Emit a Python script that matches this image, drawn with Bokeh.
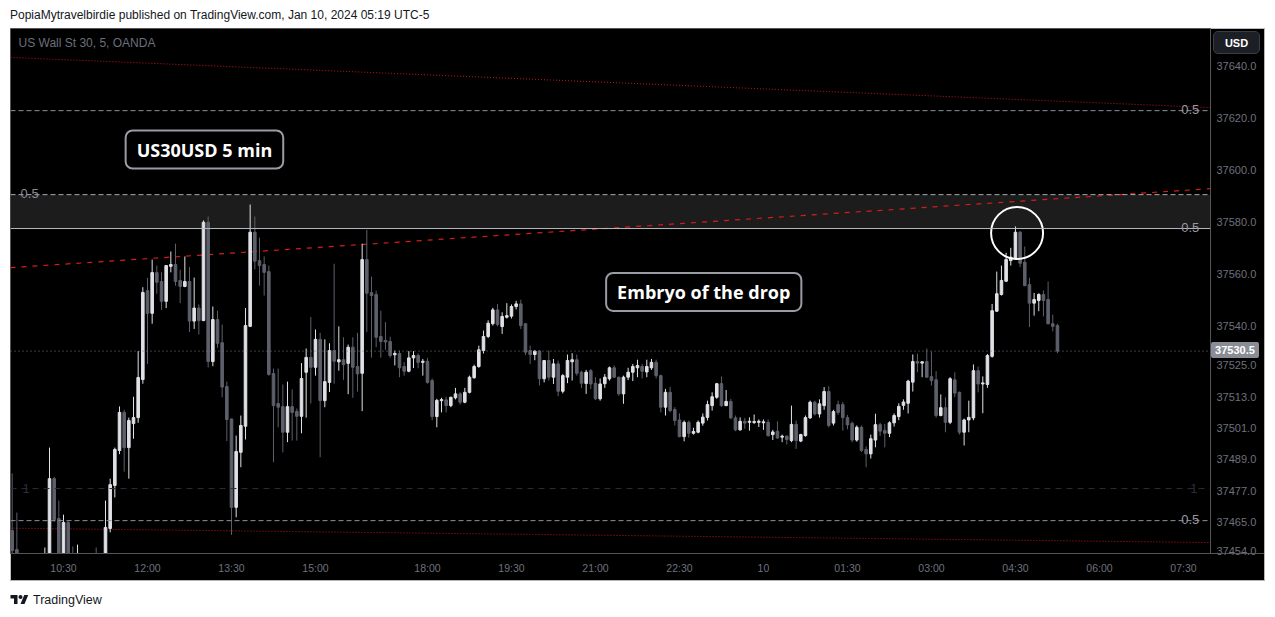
from bokeh.plotting import figure
from bokeh.models import (ColumnDataSource, Range1d, FixedTicker, Span, BoxAnnotation,
                          Label, Div, NumeralTickFormatter)
from bokeh.layouts import column
from bokeh.embed import file_html
from bokeh.resources import INLINE

# ---------------- data (5-minute bars, x = bar number, 0 = 10:30) ----------------
bar_index = list(range(-11, 214))

opens = [
    37461.7, 37454.4, 37449.0, 37442.0, 37444.0, 37440.0, 37443.0, 37446.0, 37448.0, 37481.6,
    37466.3, 37450.5, 37464.8, 37449.0, 37447.0, 37450.0, 37443.0, 37440.0, 37445.0, 37443.0,
    37446.0, 37462.5, 37479.0, 37492.4, 37507.0, 37493.5, 37502.7, 37505.0, 37519.6, 37553.7,
    37545.0, 37560.6, 37557.2, 37549.6, 37563.0, 37563.7, 37557.6, 37555.3, 37557.2, 37542.0,
    37547.0, 37542.2, 37579.9, 37526.5, 37542.6, 37533.7, 37516.9, 37504.5, 37470.6, 37491.7,
    37501.7, 37540.0, 37576.1, 37565.2, 37563.7, 37561.0, 37521.9, 37510.4, 37509.2, 37499.4,
    37509.2, 37507.4, 37505.5, 37522.4, 37528.1, 37524.3, 37535.0, 37511.5, 37518.5, 37530.7,
    37526.4, 37527.2, 37525.8, 37532.0, 37524.6, 37522.0, 37565.6, 37552.9, 37552.2, 37536.1,
    37534.6, 37534.2, 37529.1, 37529.6, 37524.6, 37522.8, 37527.9, 37528.8, 37526.2, 37526.6,
    37519.2, 37505.4, 37511.5, 37511.8, 37509.6, 37512.6, 37514.1, 37510.9, 37514.7, 37520.3,
    37524.6, 37530.7, 37536.1, 37541.0, 37546.3, 37539.9, 37543.5, 37543.9, 37547.6, 37548.6,
    37541.0, 37530.7, 37529.2, 37530.5, 37519.9, 37526.9, 37520.5, 37525.6, 37515.1, 37520.5,
    37526.4, 37527.2, 37522.4, 37518.1, 37523.0, 37518.2, 37512.2, 37518.0, 37519.9, 37524.1,
    37520.5, 37514.1, 37520.5, 37522.4, 37524.1, 37524.6, 37522.5, 37524.1, 37526.2, 37521.1,
    37509.0, 37514.7, 37508.1, 37504.1, 37497.7, 37503.2, 37499.0, 37499.4, 37502.9, 37505.1,
    37509.6, 37512.8, 37518.0, 37509.6, 37511.2, 37504.9, 37500.3, 37503.6, 37503.2, 37503.1,
    37503.2, 37503.0, 37503.2, 37498.5, 37499.8, 37497.5, 37497.9, 37496.2, 37502.4, 37496.0,
    37498.1, 37504.9, 37510.9, 37506.4, 37509.6, 37515.0, 37502.9, 37510.0, 37510.0, 37505.0,
    37502.8, 37496.4, 37501.3, 37492.8, 37491.1, 37496.4, 37502.3, 37500.1, 37499.0, 37503.0,
    37505.4, 37509.7, 37510.5, 37518.6, 37526.5, 37525.9, 37526.5, 37520.7, 37519.5, 37505.8,
    37508.8, 37503.2, 37519.5, 37514.7, 37499.4, 37504.1, 37504.9, 37523.0, 37517.9, 37517.7,
    37528.5, 37545.8, 37552.2, 37557.3, 37565.2, 37565.9, 37576.1, 37564.6, 37556.0, 37548.9,
    37549.9, 37552.2, 37550.3, 37541.0, 37540.3,
]
highs = [
    37483.6, 37468.6, 37451.0, 37447.0, 37449.0, 37446.0, 37450.0, 37455.2, 37493.5, 37482.3,
    37473.2, 37467.8, 37465.5, 37455.6, 37456.3, 37451.5, 37448.0, 37447.0, 37455.2, 37449.0,
    37473.2, 37481.6, 37493.5, 37509.3, 37508.0, 37505.0, 37513.0, 37530.5, 37555.0, 37558.6,
    37565.6, 37563.3, 37560.7, 37563.3, 37568.7, 37571.7, 37561.7, 37566.8, 37562.7, 37558.7,
    37548.4, 37580.6, 37582.1, 37547.6, 37546.0, 37540.7, 37518.8, 37504.6, 37498.1, 37505.8,
    37547.0, 37586.7, 37582.1, 37574.0, 37566.8, 37563.3, 37523.8, 37523.8, 37517.7, 37518.8,
    37515.8, 37508.5, 37525.9, 37531.5, 37543.6, 37538.8, 37537.5, 37535.0, 37533.5, 37564.0,
    37540.0, 37535.8, 37533.0, 37535.8, 37537.5, 37571.7, 37577.0, 37559.1, 37553.7, 37546.0,
    37541.6, 37536.0, 37530.7, 37530.7, 37526.3, 37530.5, 37530.5, 37529.6, 37527.5, 37527.9,
    37520.0, 37512.2, 37512.6, 37513.0, 37513.0, 37516.4, 37514.7, 37516.4, 37521.1, 37525.3,
    37532.6, 37538.4, 37542.3, 37547.1, 37548.6, 37545.4, 37548.9, 37548.4, 37549.8, 37550.2,
    37541.2, 37532.6, 37530.8, 37530.8, 37527.0, 37530.7, 37527.5, 37526.9, 37521.7, 37529.2,
    37529.7, 37529.2, 37523.0, 37523.3, 37523.6, 37520.5, 37520.0, 37521.7, 37524.6, 37525.0,
    37520.7, 37521.1, 37524.1, 37525.6, 37527.2, 37525.6, 37527.2, 37527.5, 37527.2, 37521.5,
    37516.0, 37516.8, 37509.0, 37506.6, 37503.9, 37503.9, 37501.1, 37503.9, 37506.6, 37511.5,
    37514.7, 37518.3, 37520.8, 37515.6, 37512.2, 37505.8, 37505.1, 37504.9, 37505.1, 37506.2,
    37504.3, 37504.3, 37504.3, 37500.3, 37503.6, 37498.5, 37498.1, 37509.6, 37503.9, 37498.8,
    37505.8, 37511.5, 37511.5, 37512.0, 37516.7, 37517.0, 37508.0, 37511.5, 37511.0, 37506.0,
    37503.5, 37502.0, 37502.0, 37494.0, 37498.5, 37506.5, 37503.0, 37502.6, 37503.6, 37506.6,
    37510.5, 37512.0, 37519.5, 37529.2, 37529.5, 37526.5, 37531.5, 37530.4, 37522.8, 37513.9,
    37512.8, 37520.5, 37522.4, 37515.0, 37504.6, 37511.5, 37525.4, 37524.6, 37520.8, 37529.4,
    37548.6, 37561.0, 37563.3, 37568.2, 37570.1, 37578.3, 37576.5, 37570.6, 37558.6, 37552.8,
    37552.7, 37553.7, 37557.2, 37544.5, 37541.0,
]
lows = [
    37448.0, 37444.0, 37438.0, 37436.0, 37437.0, 37434.0, 37439.0, 37441.0, 37445.0, 37465.0,
    37446.0, 37447.0, 37445.0, 37442.0, 37441.0, 37440.0, 37436.0, 37437.0, 37441.0, 37438.0,
    37443.0, 37461.0, 37474.4, 37491.0, 37484.3, 37481.6, 37496.9, 37503.0, 37518.0, 37525.6,
    37541.0, 37552.5, 37546.3, 37547.0, 37560.7, 37555.6, 37548.9, 37555.0, 37537.8, 37539.0,
    37536.9, 37542.0, 37524.3, 37524.7, 37531.8, 37512.8, 37496.0, 37460.0, 37466.8, 37486.0,
    37496.6, 37539.7, 37561.8, 37555.6, 37551.8, 37521.1, 37487.9, 37501.3, 37491.7, 37495.6,
    37496.2, 37496.2, 37499.0, 37505.0, 37510.4, 37521.1, 37489.8, 37509.0, 37514.8, 37518.0,
    37523.0, 37519.5, 37514.0, 37512.6, 37515.0, 37507.5, 37537.8, 37528.0, 37532.0, 37528.0,
    37531.0, 37528.0, 37525.0, 37520.5, 37521.1, 37522.4, 37524.0, 37523.9, 37521.1, 37518.0,
    37504.0, 37501.3, 37507.0, 37507.0, 37509.0, 37512.0, 37510.0, 37510.5, 37514.3, 37519.9,
    37524.1, 37529.6, 37535.5, 37540.3, 37540.0, 37537.1, 37543.0, 37543.0, 37546.5, 37539.0,
    37529.0, 37525.6, 37527.0, 37517.3, 37518.5, 37519.2, 37517.9, 37513.2, 37514.3, 37518.2,
    37519.2, 37521.1, 37516.4, 37514.1, 37516.0, 37511.8, 37511.5, 37516.4, 37519.2, 37520.2,
    37513.4, 37510.3, 37519.4, 37519.0, 37520.5, 37520.0, 37520.5, 37523.3, 37520.0, 37507.0,
    37505.8, 37507.0, 37502.0, 37497.5, 37495.9, 37497.3, 37498.5, 37499.0, 37501.9, 37503.9,
    37507.7, 37512.2, 37509.2, 37509.4, 37504.4, 37499.8, 37500.0, 37500.7, 37500.0, 37502.6,
    37501.4, 37500.3, 37497.7, 37496.4, 37496.8, 37495.6, 37494.7, 37495.6, 37493.0, 37495.6,
    37497.7, 37504.5, 37505.8, 37505.0, 37508.0, 37501.3, 37502.0, 37506.0, 37500.0, 37500.5,
    37495.5, 37495.8, 37491.8, 37486.0, 37489.3, 37493.6, 37498.0, 37493.6, 37497.5, 37501.6,
    37504.0, 37508.0, 37506.6, 37515.0, 37522.4, 37520.5, 37520.3, 37517.3, 37505.0, 37505.5,
    37499.4, 37502.5, 37512.8, 37498.5, 37494.3, 37499.4, 37504.0, 37514.7, 37506.7, 37516.4,
    37528.0, 37545.5, 37551.8, 37557.0, 37563.3, 37565.5, 37562.7, 37555.4, 37539.7, 37544.1,
    37545.8, 37543.8, 37540.7, 37538.1, 37529.7,
]
closes = [
    37454.0, 37449.0, 37442.0, 37444.0, 37440.0, 37443.0, 37446.0, 37448.0, 37481.6, 37465.9,
    37450.5, 37464.8, 37449.0, 37447.0, 37450.0, 37443.0, 37440.0, 37445.0, 37443.0, 37446.0,
    37462.9, 37479.3, 37492.8, 37507.0, 37493.5, 37503.9, 37505.0, 37520.4, 37553.0, 37545.0,
    37560.6, 37556.9, 37549.6, 37563.3, 37563.7, 37557.2, 37555.3, 37557.2, 37542.0, 37547.0,
    37542.2, 37579.9, 37526.5, 37542.6, 37533.5, 37516.7, 37504.3, 37470.6, 37492.0, 37502.0,
    37540.3, 37576.1, 37565.0, 37563.3, 37560.7, 37521.5, 37509.6, 37509.0, 37499.4, 37509.2,
    37507.0, 37505.5, 37520.0, 37528.1, 37524.3, 37535.0, 37511.5, 37518.8, 37530.7, 37526.6,
    37527.2, 37525.3, 37532.0, 37524.3, 37521.8, 37565.6, 37552.7, 37551.8, 37535.8, 37534.2,
    37534.0, 37528.8, 37529.6, 37524.1, 37522.8, 37527.9, 37528.8, 37526.2, 37526.6, 37518.5,
    37505.4, 37511.6, 37511.9, 37509.6, 37512.8, 37514.1, 37510.9, 37514.7, 37520.5, 37524.6,
    37531.0, 37536.1, 37541.2, 37546.3, 37540.7, 37543.8, 37544.1, 37547.6, 37548.6, 37540.3,
    37530.1, 37529.2, 37530.5, 37519.9, 37526.9, 37520.5, 37525.6, 37515.1, 37521.1, 37526.9,
    37527.2, 37522.0, 37518.2, 37522.4, 37517.9, 37512.2, 37517.9, 37520.5, 37524.1, 37520.5,
    37514.1, 37520.5, 37522.4, 37524.6, 37525.0, 37522.8, 37524.6, 37526.2, 37521.1, 37509.0,
    37514.7, 37507.7, 37503.9, 37497.7, 37503.2, 37499.0, 37499.7, 37503.2, 37505.2, 37510.0,
    37513.0, 37518.0, 37509.6, 37511.2, 37504.9, 37500.3, 37503.6, 37502.9, 37503.6, 37503.5,
    37503.6, 37503.4, 37498.1, 37499.5, 37497.2, 37497.9, 37496.6, 37502.4, 37496.2, 37498.5,
    37505.0, 37510.9, 37506.4, 37510.3, 37515.0, 37502.0, 37507.3, 37507.0, 37505.0, 37502.2,
    37496.4, 37501.3, 37492.4, 37491.1, 37496.9, 37502.3, 37499.8, 37499.0, 37503.0, 37505.8,
    37509.3, 37511.0, 37519.0, 37526.5, 37525.9, 37526.4, 37520.5, 37519.2, 37505.8, 37508.8,
    37503.2, 37519.9, 37514.4, 37499.4, 37504.1, 37505.1, 37523.0, 37517.9, 37518.3, 37528.8,
    37546.0, 37552.5, 37557.6, 37565.6, 37566.5, 37576.1, 37564.2, 37555.6, 37548.9, 37550.3,
    37552.2, 37549.9, 37541.0, 37540.0, 37530.5,
]
assert len(opens) == len(highs) == len(lows) == len(closes) == len(bar_index)

time_tick_bars = [0, 18, 36, 54, 78, 96, 114, 132, 150, 168, 186, 204, 222, 240]
time_tick_labels = ["10:30", "12:00", "13:30", "15:00", "18:00", "19:30", "21:00",
                    "22:30", "10", "01:30", "03:00", "04:30", "06:00", "07:30"]
price_ticks = [37454, 37465, 37477, 37489, 37501, 37513, 37525, 37540,
               37560, 37580, 37600, 37620, 37640]

last_price = 37530.5
fib_half_levels = [37622.7, 37465.5]
zone_bottom = 37577.5
zone_top = 37590.5
fib_one_level = 37477.8
trend_x = [-11.36, 245.8]
upper_red_dotted = [37643.1, 37623.9]
rising_red_dashed = [37562.5, 37592.8]
lower_red_dotted = [37462.6, 37457.1]
circle_bar = [204.35]
circle_price = [37575.8]

# ---------------- figure ----------------
X0, X1 = -11.36, 245.8
Y0, Y1 = 37452.9, 37654.2

p = figure(width=1255, height=552, x_range=Range1d(X0, X1), y_range=Range1d(Y0, Y1),
           output_backend="svg", toolbar_location=None, y_axis_location="right",
           background_fill_color="#000000", border_fill_color="#000000",
           min_border_left=0, min_border_top=0, min_border_right=55, min_border_bottom=27,
           outline_line_color="#555555", margin=(0, 0, 0, 10))
p.xgrid.visible = False
p.ygrid.visible = False

for ax in (p.xaxis[0], p.yaxis[0]):
    ax.major_tick_line_color = None
    ax.minor_tick_line_color = None
    ax.major_tick_out = 0
    ax.major_tick_in = 0
    ax.axis_line_color = "#555555"
    ax.major_label_text_color = "#6e717c"
    ax.major_label_text_font = "Liberation Sans"

p.yaxis.ticker = FixedTicker(ticks=price_ticks)
p.yaxis.formatter = NumeralTickFormatter(format="0.0")
p.yaxis.major_label_text_font_size = "11px"
p.yaxis.major_label_standoff = 6

p.xaxis.ticker = FixedTicker(ticks=time_tick_bars)
p.xaxis.major_label_overrides = {b: t for b, t in zip(time_tick_bars, time_tick_labels)}
p.xaxis.major_label_text_font_size = "10.5px"
p.xaxis.major_label_standoff = 8

# zone band and horizontal levels
p.add_layout(BoxAnnotation(bottom=zone_bottom, top=zone_top, fill_color="#1c1c1c",
                           fill_alpha=1, line_color=None, level="underlay"))
p.add_layout(Span(location=zone_top, dimension="width", line_color="#a8aab2",
                  line_dash="5 3", line_width=1))
p.add_layout(Span(location=zone_bottom, dimension="width", line_color="#b8bac2",
                  line_width=1))
for lv in fib_half_levels:
    p.add_layout(Span(location=lv, dimension="width", line_color="#8f929b",
                      line_dash="5 3", line_width=1))
p.add_layout(Span(location=fib_one_level, dimension="width", line_color="#2a2e39",
                  line_dash="6 5", line_width=1))
p.add_layout(Span(location=last_price, dimension="width", line_color="#787b86",
                  line_dash="1 3", line_width=1))

# trend lines
p.line(trend_x, upper_red_dotted, line_color="#c4161c", line_dash="1 2", line_width=1)
p.line(trend_x, rising_red_dashed, line_color="#d81b1b", line_dash="5 6", line_width=1.2)
p.line(trend_x, lower_red_dotted, line_color="#c4161c", line_dash="1 2", line_width=1)

# candles
up_color, down_color = "#dfe1e6", "#5d606b"
colors = [up_color if c >= o else down_color for o, c in zip(opens, closes)]
src = ColumnDataSource(dict(
    x=bar_index, o=opens, h=highs, l=lows, c=closes,
    top=[max(o, c) for o, c in zip(opens, closes)],
    bottom=[min(o, c) for o, c in zip(opens, closes)],
    color=colors))
p.segment(x0="x", y0="h", x1="x", y1="l", line_color="color", line_width=1, source=src)
p.vbar(x="x", width=0.55, top="top", bottom="bottom", fill_color="color",
       line_color="color", line_width=1, source=src)

# circle highlight
p.scatter(circle_bar, circle_price, marker="circle", size=52, fill_color=None,
          line_color="#ffffff", line_width=2)

# level labels
def add_label(x, y, text, color, size="13px", align="left"):
    p.add_layout(Label(x=x, y=y, text=text, text_color=color, text_font="Liberation Sans",
                       text_font_size=size, text_align=align, text_baseline="middle"))

add_label(243.4, fib_half_levels[0] + 0.4, "0.5", "#9598a1", align="right")
add_label(-9.2, zone_top + 0.6, "0.5", "#8a8d96")
add_label(243.4, zone_bottom + 0.4, "0.5", "#9598a1", align="right")
add_label(243.4, fib_half_levels[1] + 0.4, "0.5", "#9598a1", align="right")
add_label(-8.8, fib_one_level, "1", "#2a2e39")
add_label(243.0, fib_one_level, "1", "#2a2e39", align="right")
add_label(-9.64, 37648.8, "US Wall St 30, 5, OANDA", "#6c6f7a", size="12px")

# text callouts
for x, y, t in [(30.2, 37607.8, "US30USD 5 min"), (137.2, 37553.2, "Embryo of the drop")]:
    p.add_layout(Label(x=x, y=y, text=t, text_color="#ffffff", text_font="Open Sans",
                       text_font_size="18px", text_font_style="bold",
                       text_align="center", text_baseline="middle",
                       background_fill_color="#000000", border_line_color="#9a9ca4",
                       border_line_width=2, border_radius=7,
                       padding=dict(left=11, right=11, top=7, bottom=7)))

FONT = "font-family:'Liberation Sans',Arial,sans-serif;"

header = Div(text='<span style="' + FONT + 'font-size:12px;color:#131722;line-height:14px;">'
                  'PopiaMytravelbirdie published on TradingView.com, Jan 10, 2024 05:19 UTC-5</span>',
             width=1255, height=21, margin=(7, 0, 0, 10))

logo_svg = ('<svg width="19" height="12" viewBox="0 0 36 24" style="vertical-align:-1px;margin-right:4px">'
            '<path d="M14 22H7V11H0V4h14v18z" fill="#131722"/>'
            '<circle cx="20" cy="8" r="4" fill="#131722"/>'
            '<path d="M28 22h-8l7.5-18h8L28 22z" fill="#131722"/></svg>')
footer = Div(text='<div style="padding-top:12px;' + FONT + 'font-size:12.5px;color:#131722;'
                  'line-height:16px;">' + logo_svg + 'TradingView</div>',
             width=1255, height=26, margin=(0, 0, 0, 10))

# currency button and last-price badge sitting in the price-axis strip
usd_button = Div(text='<div style="' + FONT + 'width:47px;height:23px;line-height:23px;'
                      'text-align:center;font-size:11px;font-weight:bold;color:#ffffff;'
                      'background:#1c1f26;border:1px solid #3a3d46;border-radius:5px;">USD</div>',
                 width=49, height=25, margin=0,
                 styles={"position": "absolute", "left": "1213px", "top": "31px", "z-index": "5"})
price_badge = Div(text='<div style="' + FONT + 'width:48px;height:16px;line-height:16px;'
                       'text-align:center;font-size:11px;font-weight:bold;color:#ffffff;'
                       'background:#8a8d96;border-radius:2px;">37530.5</div>',
                  width=48, height=16, margin=0,
                  styles={"position": "absolute", "left": "1211px", "top": "342px", "z-index": "5"})

# thin frame lines around the chart panel
def rule(left, top, w, h, color):
    return Div(text="", width=w, height=h, margin=0,
               styles={"position": "absolute", "left": f"{left}px", "top": f"{top}px",
                       "width": f"{w}px", "height": f"{h}px", "background": color, "z-index": "4"})

frame_rules = [
    rule(1210, 553, 55, 1, "#555555"),   # time-axis line continued under the price scale
    rule(1264, 28, 1, 553, "#b2b5be"),   # outer right edge
    rule(10, 580, 1255, 1, "#b2b5be"),   # outer bottom edge
]

layout = column(header, p, footer, usd_button, price_badge, *frame_rules, spacing=0, margin=0)
open("out.html", "w").write(file_html(layout, INLINE))
